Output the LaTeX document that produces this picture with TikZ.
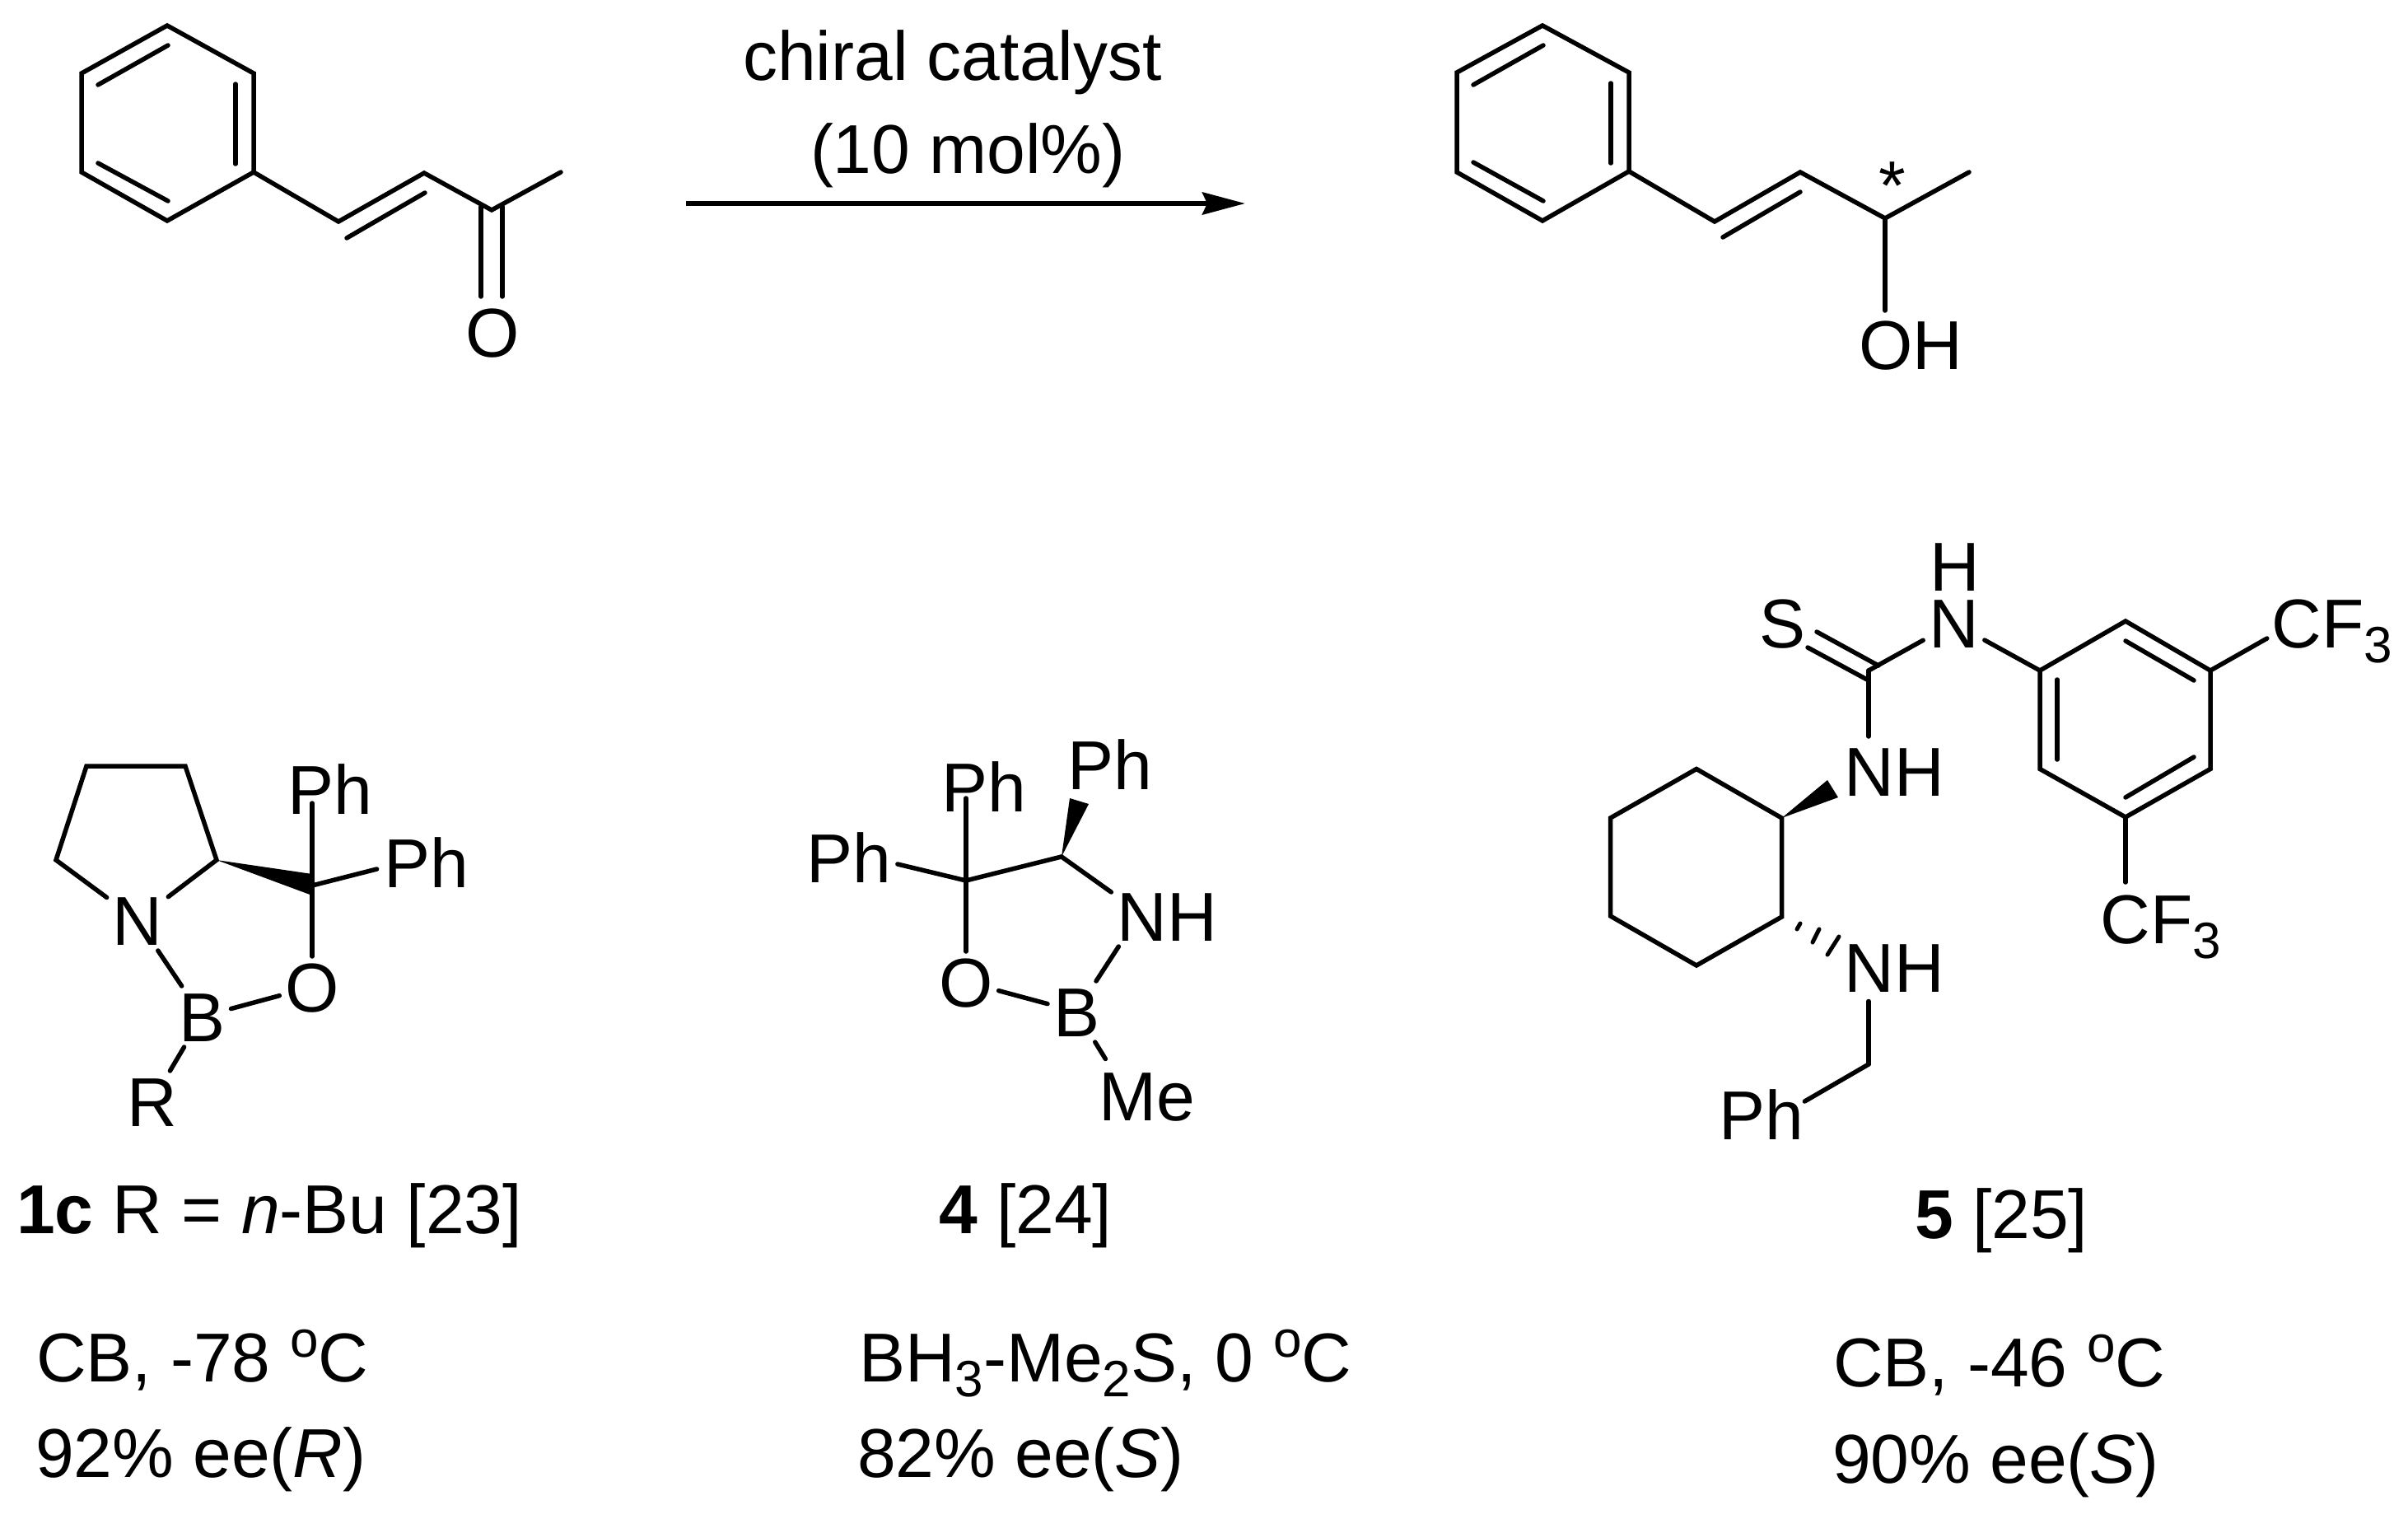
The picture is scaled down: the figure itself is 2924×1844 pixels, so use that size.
\documentclass[tikz,border=0pt]{standalone}
\usepackage{fontspec}
\setmainfont{Liberation Sans}
\usetikzlibrary{arrows.meta}
\newcommand{\lowd}[1]{\raisebox{-18pt}{\fontsize{62}{62}\selectfont #1}}
\newcommand{\degr}{\raisebox{30pt}{\fontsize{62}{62}\selectfont o}}
\tikzset{
    bond/.style={line width=5.5pt, line cap=round, line join=miter},
    hashbond/.style={line width=5pt, line cap=round},
    atom/.style={inner sep=7pt, outer sep=0pt, text height=60pt, text depth=0pt, font=\fontsize{84}{100}\selectfont},
    txt/.style={inner sep=0pt, outer sep=0pt, anchor=base west, font=\fontsize{84}{100}\selectfont}
}

\begin{document}
\begin{tikzpicture}[x=1pt, y=-1pt, >={Stealth[length=52pt,width=27pt,inset=6pt]}]
    \useasboundingbox (0,0) rectangle (2924,1844);
    % ketone
    \coordinate (a1) at (203,31);  \coordinate (a2) at (99,89);   \coordinate (a3) at (99,209);
    \coordinate (a4) at (203,268); \coordinate (a5) at (308,209); \coordinate (a6) at (308,89);
    \coordinate (a7) at (411,269); \coordinate (a8) at (515,210); \coordinate (a9) at (597,255);
    \coordinate (a10) at (681,209);
    \node[atom] (oxo) at (598,403) {O};
    \draw[bond] (a1) -- (a2) -- (a3) -- (a4) -- (a5) -- (a6) -- cycle;
    \draw[bond] ([shift={(20,14)}]a2) -- ([shift={(1,24)}]a1);
    \draw[bond] ([shift={(-22,13)}]a6) -- ([shift={(-22,-10)}]a5);
    \draw[bond] ([shift={(20,-11)}]a3) -- ([shift={(1,-24)}]a4);
    \draw[bond] (a5) -- (a7) -- (a8) -- (a9) -- (a10);
    \draw[bond] ([shift={(10,20)}]a7) -- ([shift={(1,24)}]a8);
    \draw[bond] ([shift={(-13,-4)}]a9) -- ([shift={(-14,-6)}]oxo.north);
    \draw[bond] ([shift={(13,-4)}]a9) -- ([shift={(12,-6)}]oxo.north);
    % arrow
    \coordinate (arrs) at (833,247);
    \coordinate (arre) at (1512,247);
    \draw[->, line width=6pt] (arrs) -- (arre);
    \node[txt] (rcat) at (902,98) {chiral catalyst};
    \node[txt] (rmol) at (984,210) {(10 mol\%)};
    % alcohol
    \coordinate (b1) at (1873,31);  \coordinate (b2) at (1769,88);  \coordinate (b3) at (1769,209);
    \coordinate (b4) at (1873,268); \coordinate (b5) at (1978,208); \coordinate (b6) at (1978,88);
    \coordinate (b7) at (2082,269); \coordinate (b8) at (2186,209); \coordinate (b9) at (2289,265);
    \coordinate (b10) at (2391,209);
    \node[atom] (oh) at (2320,418) {OH};
    \node[txt, anchor=base] (star) at (2298,254) {*};
    \draw[bond] (b1) -- (b2) -- (b3) -- (b4) -- (b5) -- (b6) -- cycle;
    \draw[bond] ([shift={(20,15)}]b2) -- ([shift={(1,24)}]b1);
    \draw[bond] ([shift={(-22,13)}]b6) -- ([shift={(-22,-10)}]b5);
    \draw[bond] ([shift={(20,-12)}]b3) -- ([shift={(1,-24)}]b4);
    \draw[bond] (b5) -- (b7) -- (b8) -- (b9) -- (b10);
    \draw[bond] ([shift={(10,19)}]b7) -- ([shift={(0,24)}]b8);
    \draw[bond] (b9) -- ([shift={(-31,-4)}]oh.north);
    % catalyst 1c
    \coordinate (p1) at (105,930);  \coordinate (p2) at (225,930);
    \coordinate (p3) at (263,1044); \coordinate (p4) at (68,1044);
    \coordinate (qc) at (379,1075);
    \node[atom] (nring) at (167,1117) {N};
    \node[atom] (bring) at (245.5,1234) {B};
    \node[atom] (oring) at (379,1198) {O};
    \node[atom] (rgrp) at (184.5,1337) {R};
    \node[atom] (pha) at (401,958.5) {Ph};
    \node[atom] (phb) at (517.5,1047) {Ph};
    \draw[bond] (nring) -- (p4) -- (p1) -- (p2) -- (p3) -- (nring);
    \draw[bond] (nring) -- (bring);
    \draw[bond] (bring) -- (oring);
    \draw[bond] (bring) -- (rgrp);
    \draw[bond] (qc) -- (oring);
    \draw[bond] (qc) -- ([shift={(-22,-20.5)}]pha.south);
    \draw[bond] (qc) -- ([shift={(-1.5,8)}]phb.west);
    \fill (p3) -- (379,1061) -- (379,1087) -- cycle;
    \node[txt] (lbla) at (20,1497) {\textbf{1c} R = \textit{n}-Bu [23]};
    \node[txt] (conda) at (44,1677) {CB, -78 \degr C};
    \node[txt] (eea) at (43,1793) {92\% ee(\textit{R})};
    % catalyst 4
    \coordinate (qd) at (1173,1069);
    \coordinate (qe) at (1289,1040);
    \node[atom] (phc) at (1194.5,955) {Ph};
    \node[atom] (phd) at (1030.5,1041) {Ph};
    \node[atom] (phe) at (1348,928) {Ph};
    \node[atom] (ofour) at (1173,1192) {O};
    \node[atom] (bfour) at (1307,1228) {B};
    \node[atom] (nhfour) at (1417,1112) {NH};
    \node[atom] (me) at (1392.7,1330.5) {Me};
    \draw[bond] (qd) -- (qe);
    \draw[bond] (qd) -- ([shift={(-21.5,-23)}]phc.south);
    \draw[bond] (qd) -- ([shift={(1,8)}]phd.east);
    \draw[bond] (qd) -- (ofour);
    \draw[bond] (ofour) -- (bfour);
    \draw[bond] (qe) -- ([yshift=-8pt]nhfour.north west);
    \draw[bond] (bfour) -- ([xshift=9pt]nhfour.south west);
    \draw[bond] (bfour) -- ([shift={(15,-8)}]me.north west);
    \fill (qe) -- (1299,969) -- (1322,976) -- cycle;
    \node[txt] (lblb) at (1140,1497) {\textbf{4} [24]};
    \node[txt] (condb) at (1043,1677) {BH\lowd{3}-Me\lowd{2}S, 0 \degr C};
    \node[txt] (eeb) at (1041,1793) {82\% ee(\textit{S})};
    % catalyst 5
    \coordinate (e1) at (2163.5,993);  \coordinate (e2) at (2060,933.5); \coordinate (e3) at (1955.5,993);
    \coordinate (e4) at (1955.5,1112); \coordinate (e5) at (2060,1172);  \coordinate (e6) at (2163.5,1113);
    \coordinate (d1) at (2477,814);  \coordinate (d2) at (2581,754);   \coordinate (d3) at (2684,814);
    \coordinate (d4) at (2684,933.5); \coordinate (d5) at (2581,992);  \coordinate (d6) at (2477,933.5);
    \coordinate (tc) at (2269,814);
    \coordinate (ch) at (2269,1292);
    \node[atom] (sulf) at (2164.5,756.5) {S};
    \node[atom, inner sep=0pt] (hyd) at (2373.5,687.5) {H};
    \node[atom] (nthio) at (2372.5,756.5) {N};
    \node[atom] (nhb) at (2300,936) {NH};
    \node[atom] (nhc) at (2300,1174.5) {NH};
    \node[atom] (phf) at (2138.5,1353.5) {Ph};
    \node[atom] (cfa) at (2832,756.5) {CF\lowd{3}};
    \node[atom] (cfb) at (2624,1115) {CF\lowd{3}};
    \draw[bond] (e1) -- (e2) -- (e3) -- (e4) -- (e5) -- (e6) -- cycle;
    \draw[bond] (d1) -- (d2) -- (d3) -- (d4) -- (d5) -- (d6) -- cycle;
    \draw[bond] ([shift={(21,11)}]d1) -- ([shift={(21,-11.5)}]d6);
    \draw[bond] ([shift={(0,24)}]d2) -- ([shift={(-20,12)}]d3);
    \draw[bond] ([shift={(-20,-14.5)}]d4) -- ([shift={(0,-24)}]d5);
    \draw[bond] ([shift={(6.5,10.5)}]sulf.east) -- ([shift={(12,-6)}]tc);
    \draw[bond] ([shift={(-4.5,-7.5)}]sulf.south east) -- ([shift={(0,12)}]tc);
    \draw[bond] (tc) -- (nthio);
    \draw[bond] (nthio) -- (d1);
    \draw[bond] (tc) -- ([shift={(-31,-5)}]nhb.north);
    \draw[bond] (ch) -- ([shift={(-31,4)}]nhc.south);
    \draw[bond] (ch) -- ([shift={(-5.5,20.5)}]phf.north east);
    \draw[bond] (d3) -- ([shift={(1,18.5)}]cfa.west);
    \draw[bond] (d5) -- ([shift={(-43,-7)}]cfb.north);
    \fill (e1) -- (2219,947) -- (2232,968) -- cycle;
    \draw[hashbond] (2186,1121) -- (2182,1128) (2209,1128) -- (2201,1144) (2233,1137) -- (2219,1159);
    \node[txt] (lblc) at (2325,1503) {\textbf{5} [25]};
    \node[txt] (condc) at (2226,1683) {CB, -46 \degr C};
    \node[txt] (eec) at (2225,1800) {90\% ee(\textit{S})};
\end{tikzpicture}
\end{document}
